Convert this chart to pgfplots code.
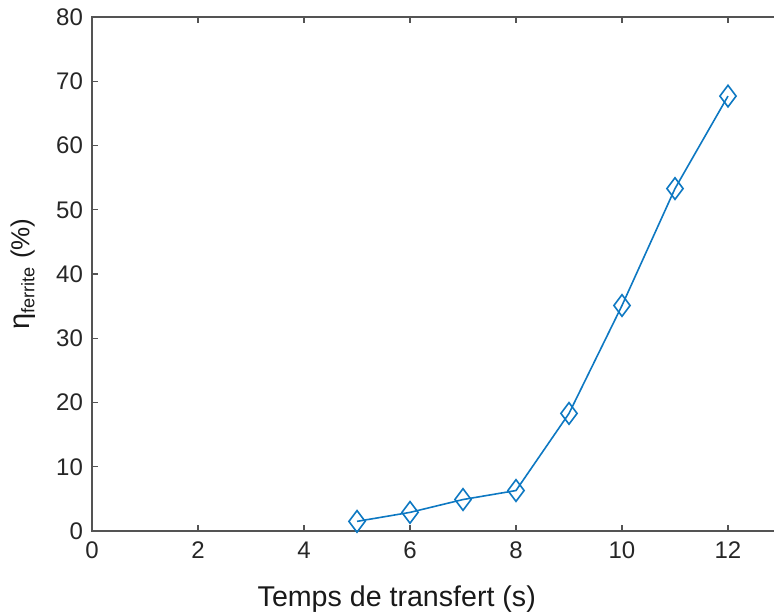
\documentclass[border=0pt]{standalone}
\usepackage{pgfplots}
\pgfplotsset{compat=1.18}
\usepackage{fontspec}
\setmainfont{Liberation Sans}
\definecolor{mblue}{rgb}{0.05,0.47,0.76}
\definecolor{axgray}{gray}{0.33}
\begin{document}
\begin{tikzpicture}
\begin{axis}[
  scale only axis,
  width=344.5pt, height=257pt,
  xmin=0, xmax=13, ymin=0, ymax=80,
  xtick={0,2,...,12}, ytick={0,10,...,80},
  tick align=inside, major tick length=3pt,
  axis line style={draw=axgray, line width=0.7pt},
  tick style={draw=axgray, line width=0.7pt},
  xticklabel style={yshift=-2pt},
  yticklabel style={xshift=-1pt},
  ticklabel style={font=\fontsize{12}{14}\selectfont, text=black!85},
  /pgf/number format/assume math mode=true,
  xlabel={Temps de transfert (s)},
  ylabel={{\fontsize{14.5}{16}\selectfont η}\textsubscript{ferrite} (\%)},
  xlabel style={font=\fontsize{14.3}{16}\selectfont, text=black!90,
    at={(rel axis cs:0.4423,0)}, anchor=base, yshift=-37.5pt},
  ylabel style={font=\fontsize{13}{16}\selectfont, text=black!90,
    at={([xshift=-34.5pt]rel axis cs:0,0.5)}, anchor=center},
]
\addplot[color=mblue, line width=0.8pt, mark=diamond, mark size=5.4pt,
  mark options={solid, fill=none, line width=0.8pt}]
  coordinates {(5,1.5) (6,2.9) (7,4.9) (8,6.3) (9,18.3) (10,35.1) (11,53.3) (12,67.7)};
\coordinate (bbl) at (axis cs:-1.736,-12.92);
\coordinate (btr) at (axis cs:12.868,82.65);
\end{axis}
\pgfresetboundingbox
\useasboundingbox (bbl) rectangle (btr);
\end{tikzpicture}
\end{document}
